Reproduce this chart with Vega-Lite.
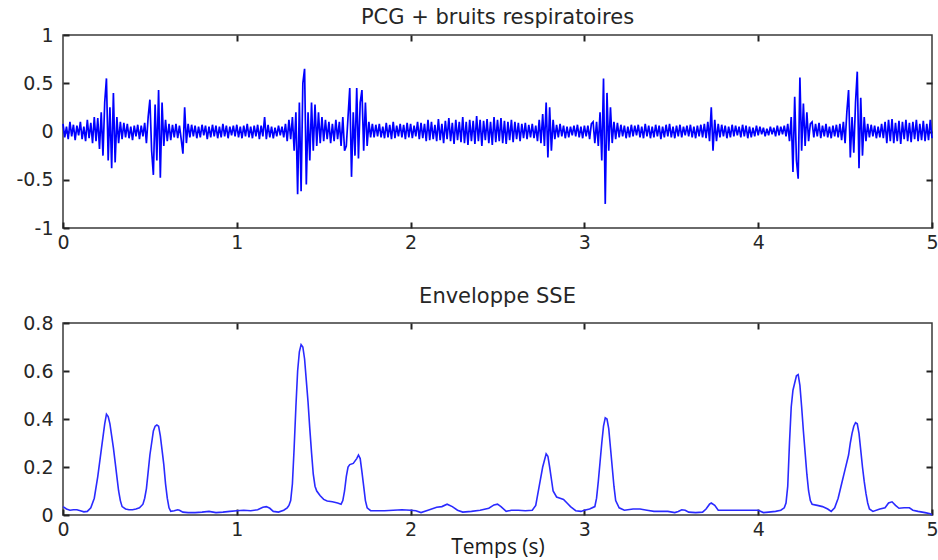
{
"$schema": "https://vega.github.io/schema/vega-lite/v6.json",
"background": "white",
"padding": {"left": 15, "top": 6, "right": 6, "bottom": 0},
"spacing": 32,
"config": {
 "view": {"stroke": "#3a3a3a", "strokeWidth": 1.5},
 "font": "DejaVu Sans",
 "axis": {"grid": false, "domain": false, "ticks": true, "tickColor": "#222222", "tickWidth": 2, "tickSize": 6, "tickOpacity": 1, "offset": -6, "zindex": 2, "labelFont": "DejaVu Sans", "labelFontSize": 19, "labelColor": "#262626", "labelOverlap": false, "labelFlush": false, "titleFont": "Open Sans", "titleFontSize": 21, "titleFontWeight": "normal", "titleColor": "#1a1a1a"},
 "title": {"font": "DejaVu Sans", "fontSize": 21, "fontWeight": "normal", "color": "#262626"}
},
"datasets": {
"pcg": [
{"t":0.00,"v":0.08},{"t":0.01,"v":-0.06},{"t":0.02,"v":0.05},{"t":0.03,"v":-0.08},{"t":0.04,"v":0.1},{"t":0.05,"v":-0.05},{"t":0.06,"v":0.07},{"t":0.07,"v":-0.09},{"t":0.08,"v":0.06},{"t":0.09,"v":-0.04},
{"t":0.10,"v":0.1},{"t":0.11,"v":-0.08},{"t":0.12,"v":0.05},{"t":0.13,"v":-0.1},{"t":0.14,"v":0.12},{"t":0.15,"v":-0.07},{"t":0.16,"v":0.09},{"t":0.17,"v":-0.12},{"t":0.18,"v":0.15},{"t":0.19,"v":-0.1},
{"t":0.20,"v":0.14},{"t":0.21,"v":-0.18},{"t":0.22,"v":0.2},{"t":0.23,"v":-0.25},{"t":0.24,"v":0.3},{"t":0.25,"v":0.55},{"t":0.26,"v":-0.3},{"t":0.27,"v":0.25},{"t":0.28,"v":-0.38},{"t":0.29,"v":0.4},
{"t":0.30,"v":-0.32},{"t":0.31,"v":0.15},{"t":0.32,"v":-0.12},{"t":0.33,"v":0.1},{"t":0.34,"v":-0.08},{"t":0.35,"v":0.09},{"t":0.36,"v":-0.06},{"t":0.37,"v":0.08},{"t":0.38,"v":-0.07},{"t":0.39,"v":0.05},
{"t":0.40,"v":-0.09},{"t":0.41,"v":0.06},{"t":0.42,"v":-0.05},{"t":0.43,"v":0.07},{"t":0.44,"v":-0.08},{"t":0.45,"v":0.06},{"t":0.46,"v":-0.05},{"t":0.47,"v":0.09},{"t":0.48,"v":-0.12},{"t":0.49,"v":0.15},
{"t":0.50,"v":0.33},{"t":0.51,"v":-0.2},{"t":0.52,"v":-0.45},{"t":0.53,"v":0.28},{"t":0.54,"v":-0.3},{"t":0.55,"v":0.43},{"t":0.56,"v":-0.48},{"t":0.57,"v":0.3},{"t":0.58,"v":-0.15},{"t":0.59,"v":0.12},
{"t":0.60,"v":-0.1},{"t":0.61,"v":0.08},{"t":0.62,"v":-0.09},{"t":0.63,"v":0.07},{"t":0.64,"v":-0.06},{"t":0.65,"v":0.08},{"t":0.66,"v":-0.07},{"t":0.67,"v":0.06},{"t":0.68,"v":-0.08},{"t":0.69,"v":-0.23},
{"t":0.70,"v":0.25},{"t":0.71,"v":-0.12},{"t":0.72,"v":0.08},{"t":0.73,"v":-0.06},{"t":0.74,"v":0.07},{"t":0.75,"v":-0.05},{"t":0.76,"v":0.06},{"t":0.77,"v":-0.07},{"t":0.78,"v":0.05},{"t":0.79,"v":-0.06},
{"t":0.80,"v":0.07},{"t":0.81,"v":-0.04},{"t":0.82,"v":0.06},{"t":0.83,"v":-0.08},{"t":0.84,"v":0.05},{"t":0.85,"v":-0.06},{"t":0.86,"v":0.07},{"t":0.87,"v":-0.05},{"t":0.88,"v":0.06},{"t":0.89,"v":-0.07},
{"t":0.90,"v":0.05},{"t":0.91,"v":-0.06},{"t":0.92,"v":0.08},{"t":0.93,"v":-0.05},{"t":0.94,"v":0.06},{"t":0.95,"v":-0.07},{"t":0.96,"v":0.05},{"t":0.97,"v":-0.04},{"t":0.98,"v":0.06},{"t":0.99,"v":-0.05},
{"t":1.00,"v":0.07},{"t":1.01,"v":-0.06},{"t":1.02,"v":0.05},{"t":1.03,"v":-0.07},{"t":1.04,"v":0.06},{"t":1.05,"v":-0.05},{"t":1.06,"v":0.08},{"t":1.07,"v":-0.06},{"t":1.08,"v":0.05},{"t":1.09,"v":-0.07},
{"t":1.10,"v":0.06},{"t":1.11,"v":-0.05},{"t":1.12,"v":0.07},{"t":1.13,"v":-0.08},{"t":1.14,"v":0.06},{"t":1.15,"v":-0.05},{"t":1.16,"v":0.15},{"t":1.17,"v":-0.08},{"t":1.18,"v":0.07},{"t":1.19,"v":-0.06},
{"t":1.20,"v":0.05},{"t":1.21,"v":-0.07},{"t":1.22,"v":0.04},{"t":1.23,"v":-0.05},{"t":1.24,"v":0.06},{"t":1.25,"v":-0.04},{"t":1.26,"v":0.05},{"t":1.27,"v":-0.06},{"t":1.28,"v":0.08},{"t":1.29,"v":-0.1},
{"t":1.30,"v":0.12},{"t":1.31,"v":-0.08},{"t":1.32,"v":0.15},{"t":1.33,"v":-0.2},{"t":1.34,"v":0.2},{"t":1.35,"v":-0.65},{"t":1.36,"v":0.3},{"t":1.37,"v":-0.62},{"t":1.38,"v":0.5},{"t":1.39,"v":0.65},
{"t":1.40,"v":-0.55},{"t":1.41,"v":0.2},{"t":1.42,"v":-0.3},{"t":1.43,"v":0.3},{"t":1.44,"v":-0.2},{"t":1.45,"v":0.28},{"t":1.46,"v":-0.15},{"t":1.47,"v":0.2},{"t":1.48,"v":-0.12},{"t":1.49,"v":0.15},
{"t":1.50,"v":-0.1},{"t":1.51,"v":0.12},{"t":1.52,"v":-0.08},{"t":1.53,"v":0.1},{"t":1.54,"v":-0.12},{"t":1.55,"v":0.08},{"t":1.56,"v":-0.1},{"t":1.57,"v":0.12},{"t":1.58,"v":-0.08},{"t":1.59,"v":0.1},
{"t":1.60,"v":-0.15},{"t":1.61,"v":0.15},{"t":1.62,"v":-0.2},{"t":1.63,"v":-0.15},{"t":1.64,"v":0.15},{"t":1.65,"v":0.45},{"t":1.66,"v":-0.47},{"t":1.67,"v":0.2},{"t":1.68,"v":-0.25},{"t":1.69,"v":0.45},
{"t":1.70,"v":-0.28},{"t":1.71,"v":0.3},{"t":1.72,"v":0.43},{"t":1.73,"v":-0.2},{"t":1.74,"v":0.3},{"t":1.75,"v":-0.15},{"t":1.76,"v":0.1},{"t":1.77,"v":-0.06},{"t":1.78,"v":0.08},{"t":1.79,"v":-0.06},
{"t":1.80,"v":0.07},{"t":1.81,"v":-0.05},{"t":1.82,"v":0.08},{"t":1.83,"v":-0.06},{"t":1.84,"v":0.05},{"t":1.85,"v":-0.07},{"t":1.86,"v":0.09},{"t":1.87,"v":-0.06},{"t":1.88,"v":0.07},{"t":1.89,"v":-0.08},
{"t":1.90,"v":0.1},{"t":1.91,"v":-0.07},{"t":1.92,"v":0.06},{"t":1.93,"v":-0.05},{"t":1.94,"v":0.08},{"t":1.95,"v":-0.06},{"t":1.96,"v":0.07},{"t":1.97,"v":-0.08},{"t":1.98,"v":0.09},{"t":1.99,"v":-0.06},
{"t":2.00,"v":0.08},{"t":2.01,"v":-0.07},{"t":2.02,"v":0.06},{"t":2.03,"v":-0.05},{"t":2.04,"v":0.1},{"t":2.05,"v":-0.08},{"t":2.06,"v":0.09},{"t":2.07,"v":-0.07},{"t":2.08,"v":0.08},{"t":2.09,"v":-0.1},
{"t":2.10,"v":0.12},{"t":2.11,"v":-0.09},{"t":2.12,"v":0.1},{"t":2.13,"v":-0.08},{"t":2.14,"v":0.07},{"t":2.15,"v":-0.1},{"t":2.16,"v":0.13},{"t":2.17,"v":-0.09},{"t":2.18,"v":0.08},{"t":2.19,"v":-0.12},
{"t":2.20,"v":0.11},{"t":2.21,"v":-0.08},{"t":2.22,"v":0.14},{"t":2.23,"v":-0.1},{"t":2.24,"v":0.09},{"t":2.25,"v":-0.13},{"t":2.26,"v":0.12},{"t":2.27,"v":-0.09},{"t":2.28,"v":0.1},{"t":2.29,"v":-0.11},
{"t":2.30,"v":0.15},{"t":2.31,"v":-0.12},{"t":2.32,"v":0.1},{"t":2.33,"v":-0.14},{"t":2.34,"v":0.12},{"t":2.35,"v":-0.1},{"t":2.36,"v":0.11},{"t":2.37,"v":-0.13},{"t":2.38,"v":0.16},{"t":2.39,"v":-0.1},
{"t":2.40,"v":0.12},{"t":2.41,"v":-0.15},{"t":2.42,"v":0.11},{"t":2.43,"v":-0.09},{"t":2.44,"v":0.13},{"t":2.45,"v":-0.12},{"t":2.46,"v":0.1},{"t":2.47,"v":-0.14},{"t":2.48,"v":0.15},{"t":2.49,"v":-0.11},
{"t":2.50,"v":0.12},{"t":2.51,"v":-0.1},{"t":2.52,"v":0.14},{"t":2.53,"v":-0.12},{"t":2.54,"v":0.11},{"t":2.55,"v":-0.13},{"t":2.56,"v":0.1},{"t":2.57,"v":-0.09},{"t":2.58,"v":0.12},{"t":2.59,"v":-0.11},
{"t":2.60,"v":0.1},{"t":2.61,"v":-0.08},{"t":2.62,"v":0.09},{"t":2.63,"v":-0.1},{"t":2.64,"v":0.08},{"t":2.65,"v":-0.07},{"t":2.66,"v":0.09},{"t":2.67,"v":-0.08},{"t":2.68,"v":0.07},{"t":2.69,"v":-0.06},
{"t":2.70,"v":0.08},{"t":2.71,"v":-0.07},{"t":2.72,"v":0.06},{"t":2.73,"v":-0.1},{"t":2.74,"v":0.12},{"t":2.75,"v":-0.12},{"t":2.76,"v":0.18},{"t":2.77,"v":-0.15},{"t":2.78,"v":0.3},{"t":2.79,"v":-0.27},
{"t":2.80,"v":0.25},{"t":2.81,"v":-0.2},{"t":2.82,"v":0.12},{"t":2.83,"v":-0.08},{"t":2.84,"v":0.07},{"t":2.85,"v":-0.06},{"t":2.86,"v":0.08},{"t":2.87,"v":-0.05},{"t":2.88,"v":0.06},{"t":2.89,"v":-0.07},
{"t":2.90,"v":0.05},{"t":2.91,"v":-0.06},{"t":2.92,"v":0.05},{"t":2.93,"v":-0.04},{"t":2.94,"v":0.06},{"t":2.95,"v":-0.05},{"t":2.96,"v":0.07},{"t":2.97,"v":-0.06},{"t":2.98,"v":0.05},{"t":2.99,"v":-0.07},
{"t":3.00,"v":0.06},{"t":3.01,"v":-0.05},{"t":3.02,"v":0.06},{"t":3.03,"v":-0.08},{"t":3.04,"v":0.08},{"t":3.05,"v":0.1},{"t":3.06,"v":-0.12},{"t":3.07,"v":0.1},{"t":3.08,"v":-0.15},{"t":3.09,"v":0.2},
{"t":3.10,"v":-0.3},{"t":3.11,"v":0.55},{"t":3.12,"v":-0.75},{"t":3.13,"v":0.4},{"t":3.14,"v":-0.2},{"t":3.15,"v":0.25},{"t":3.16,"v":-0.12},{"t":3.17,"v":0.1},{"t":3.18,"v":-0.08},{"t":3.19,"v":0.09},
{"t":3.20,"v":-0.06},{"t":3.21,"v":0.07},{"t":3.22,"v":-0.05},{"t":3.23,"v":0.06},{"t":3.24,"v":-0.07},{"t":3.25,"v":0.05},{"t":3.26,"v":-0.06},{"t":3.27,"v":0.07},{"t":3.28,"v":-0.05},{"t":3.29,"v":0.06},
{"t":3.30,"v":-0.04},{"t":3.31,"v":0.07},{"t":3.32,"v":-0.06},{"t":3.33,"v":0.05},{"t":3.34,"v":-0.07},{"t":3.35,"v":0.08},{"t":3.36,"v":-0.05},{"t":3.37,"v":0.06},{"t":3.38,"v":-0.07},{"t":3.39,"v":0.05},
{"t":3.40,"v":-0.06},{"t":3.41,"v":0.07},{"t":3.42,"v":-0.05},{"t":3.43,"v":0.06},{"t":3.44,"v":-0.08},{"t":3.45,"v":0.05},{"t":3.46,"v":-0.06},{"t":3.47,"v":0.07},{"t":3.48,"v":-0.05},{"t":3.49,"v":0.08},
{"t":3.50,"v":-0.06},{"t":3.51,"v":0.05},{"t":3.52,"v":-0.07},{"t":3.53,"v":0.06},{"t":3.54,"v":-0.05},{"t":3.55,"v":0.07},{"t":3.56,"v":-0.06},{"t":3.57,"v":0.05},{"t":3.58,"v":-0.04},{"t":3.59,"v":0.06},
{"t":3.60,"v":-0.05},{"t":3.61,"v":0.07},{"t":3.62,"v":-0.06},{"t":3.63,"v":0.05},{"t":3.64,"v":-0.07},{"t":3.65,"v":0.06},{"t":3.66,"v":-0.05},{"t":3.67,"v":0.07},{"t":3.68,"v":-0.06},{"t":3.69,"v":0.08},
{"t":3.70,"v":-0.07},{"t":3.71,"v":0.1},{"t":3.72,"v":-0.1},{"t":3.73,"v":0.25},{"t":3.74,"v":-0.2},{"t":3.75,"v":0.12},{"t":3.76,"v":-0.1},{"t":3.77,"v":0.08},{"t":3.78,"v":-0.06},{"t":3.79,"v":0.07},
{"t":3.80,"v":-0.05},{"t":3.81,"v":0.06},{"t":3.82,"v":-0.07},{"t":3.83,"v":0.05},{"t":3.84,"v":-0.06},{"t":3.85,"v":0.07},{"t":3.86,"v":-0.05},{"t":3.87,"v":0.06},{"t":3.88,"v":-0.04},{"t":3.89,"v":0.05},
{"t":3.90,"v":-0.06},{"t":3.91,"v":0.07},{"t":3.92,"v":-0.05},{"t":3.93,"v":0.06},{"t":3.94,"v":-0.07},{"t":3.95,"v":0.05},{"t":3.96,"v":-0.06},{"t":3.97,"v":0.04},{"t":3.98,"v":-0.05},{"t":3.99,"v":0.06},
{"t":4.00,"v":-0.04},{"t":4.01,"v":0.05},{"t":4.02,"v":-0.03},{"t":4.03,"v":0.04},{"t":4.04,"v":-0.05},{"t":4.05,"v":0.03},{"t":4.06,"v":-0.04},{"t":4.07,"v":0.05},{"t":4.08,"v":-0.03},{"t":4.09,"v":0.04},
{"t":4.10,"v":-0.05},{"t":4.11,"v":0.06},{"t":4.12,"v":-0.04},{"t":4.13,"v":0.05},{"t":4.14,"v":-0.03},{"t":4.15,"v":0.06},{"t":4.16,"v":-0.05},{"t":4.17,"v":0.08},{"t":4.18,"v":-0.1},{"t":4.19,"v":0.15},
{"t":4.20,"v":-0.42},{"t":4.21,"v":0.36},{"t":4.22,"v":-0.3},{"t":4.23,"v":-0.49},{"t":4.24,"v":0.56},{"t":4.25,"v":-0.2},{"t":4.26,"v":0.29},{"t":4.27,"v":-0.15},{"t":4.28,"v":0.2},{"t":4.29,"v":-0.1},
{"t":4.30,"v":0.08},{"t":4.31,"v":0.1},{"t":4.32,"v":-0.06},{"t":4.33,"v":0.08},{"t":4.34,"v":-0.05},{"t":4.35,"v":0.09},{"t":4.36,"v":-0.07},{"t":4.37,"v":0.06},{"t":4.38,"v":-0.05},{"t":4.39,"v":0.08},
{"t":4.40,"v":-0.06},{"t":4.41,"v":0.05},{"t":4.42,"v":-0.07},{"t":4.43,"v":0.06},{"t":4.44,"v":-0.05},{"t":4.45,"v":0.07},{"t":4.46,"v":-0.06},{"t":4.47,"v":0.08},{"t":4.48,"v":-0.09},{"t":4.49,"v":0.1},
{"t":4.50,"v":-0.12},{"t":4.51,"v":0.2},{"t":4.52,"v":0.43},{"t":4.53,"v":-0.27},{"t":4.54,"v":0.15},{"t":4.55,"v":-0.22},{"t":4.56,"v":0.3},{"t":4.57,"v":0.62},{"t":4.58,"v":-0.38},{"t":4.59,"v":0.35},
{"t":4.60,"v":-0.25},{"t":4.61,"v":0.15},{"t":4.62,"v":-0.1},{"t":4.63,"v":0.08},{"t":4.64,"v":-0.06},{"t":4.65,"v":0.07},{"t":4.66,"v":-0.05},{"t":4.67,"v":0.06},{"t":4.68,"v":-0.07},{"t":4.69,"v":0.05},
{"t":4.70,"v":-0.06},{"t":4.71,"v":0.08},{"t":4.72,"v":-0.07},{"t":4.73,"v":0.1},{"t":4.74,"v":-0.12},{"t":4.75,"v":0.12},{"t":4.76,"v":-0.1},{"t":4.77,"v":0.13},{"t":4.78,"v":-0.12},{"t":4.79,"v":0.09},
{"t":4.80,"v":-0.1},{"t":4.81,"v":0.11},{"t":4.82,"v":-0.13},{"t":4.83,"v":0.1},{"t":4.84,"v":-0.08},{"t":4.85,"v":0.12},{"t":4.86,"v":-0.1},{"t":4.87,"v":0.09},{"t":4.88,"v":-0.11},{"t":4.89,"v":0.1},
{"t":4.90,"v":-0.08},{"t":4.91,"v":0.12},{"t":4.92,"v":-0.1},{"t":4.93,"v":0.08},{"t":4.94,"v":-0.09},{"t":4.95,"v":0.11},{"t":4.96,"v":-0.1},{"t":4.97,"v":0.08},{"t":4.98,"v":-0.09},{"t":4.99,"v":0.12},
{"t":5.00,"v":-0.07}
],
"env": [
{"t":0.00,"v":0.035},{"t":0.02,"v":0.025},{"t":0.04,"v":0.02},{"t":0.06,"v":0.022},{"t":0.08,"v":0.022},{"t":0.10,"v":0.018},{"t":0.12,"v":0.013},{"t":0.14,"v":0.015},{"t":0.16,"v":0.03},{"t":0.18,"v":0.07},
{"t":0.20,"v":0.16},{"t":0.22,"v":0.27},{"t":0.24,"v":0.38},{"t":0.25,"v":0.42},{"t":0.26,"v":0.41},{"t":0.27,"v":0.38},{"t":0.28,"v":0.33},{"t":0.29,"v":0.28},{"t":0.30,"v":0.22},{"t":0.31,"v":0.16},
{"t":0.32,"v":0.1},{"t":0.33,"v":0.06},{"t":0.34,"v":0.035},{"t":0.36,"v":0.025},{"t":0.38,"v":0.022},{"t":0.40,"v":0.022},{"t":0.42,"v":0.025},{"t":0.44,"v":0.03},{"t":0.46,"v":0.045},{"t":0.47,"v":0.07},
{"t":0.48,"v":0.11},{"t":0.49,"v":0.18},{"t":0.50,"v":0.25},{"t":0.51,"v":0.3},{"t":0.52,"v":0.35},{"t":0.53,"v":0.37},{"t":0.54,"v":0.375},{"t":0.55,"v":0.37},{"t":0.56,"v":0.33},{"t":0.57,"v":0.27},
{"t":0.58,"v":0.21},{"t":0.59,"v":0.13},{"t":0.60,"v":0.07},{"t":0.61,"v":0.03},{"t":0.62,"v":0.015},{"t":0.64,"v":0.018},{"t":0.66,"v":0.022},{"t":0.67,"v":0.02},{"t":0.69,"v":0.012},{"t":0.72,"v":0.01},
{"t":0.76,"v":0.01},{"t":0.80,"v":0.012},{"t":0.84,"v":0.015},{"t":0.88,"v":0.01},{"t":0.92,"v":0.012},{"t":0.96,"v":0.015},{"t":1.00,"v":0.018},{"t":1.04,"v":0.02},{"t":1.08,"v":0.018},{"t":1.12,"v":0.022},
{"t":1.15,"v":0.032},{"t":1.17,"v":0.035},{"t":1.19,"v":0.028},{"t":1.21,"v":0.015},{"t":1.24,"v":0.012},{"t":1.27,"v":0.02},{"t":1.29,"v":0.03},{"t":1.30,"v":0.04},{"t":1.31,"v":0.06},{"t":1.32,"v":0.13},
{"t":1.33,"v":0.28},{"t":1.34,"v":0.45},{"t":1.35,"v":0.6},{"t":1.36,"v":0.68},{"t":1.37,"v":0.71},{"t":1.38,"v":0.7},{"t":1.39,"v":0.65},{"t":1.40,"v":0.56},{"t":1.41,"v":0.47},{"t":1.42,"v":0.36},
{"t":1.43,"v":0.26},{"t":1.44,"v":0.17},{"t":1.45,"v":0.12},{"t":1.46,"v":0.1},{"t":1.48,"v":0.08},{"t":1.50,"v":0.065},{"t":1.52,"v":0.058},{"t":1.55,"v":0.055},{"t":1.58,"v":0.05},{"t":1.60,"v":0.045},
{"t":1.61,"v":0.06},{"t":1.62,"v":0.1},{"t":1.63,"v":0.16},{"t":1.64,"v":0.2},{"t":1.65,"v":0.21},{"t":1.67,"v":0.215},{"t":1.69,"v":0.235},{"t":1.70,"v":0.25},{"t":1.71,"v":0.235},{"t":1.72,"v":0.18},
{"t":1.73,"v":0.12},{"t":1.74,"v":0.06},{"t":1.75,"v":0.03},{"t":1.77,"v":0.018},{"t":1.80,"v":0.018},{"t":1.85,"v":0.018},{"t":1.90,"v":0.02},{"t":1.95,"v":0.022},{"t":2.00,"v":0.02},{"t":2.03,"v":0.018},
{"t":2.06,"v":0.01},{"t":2.10,"v":0.02},{"t":2.15,"v":0.032},{"t":2.18,"v":0.035},{"t":2.21,"v":0.045},{"t":2.24,"v":0.035},{"t":2.27,"v":0.02},{"t":2.30,"v":0.012},{"t":2.35,"v":0.015},{"t":2.40,"v":0.02},
{"t":2.45,"v":0.028},{"t":2.48,"v":0.042},{"t":2.50,"v":0.045},{"t":2.52,"v":0.035},{"t":2.55,"v":0.015},{"t":2.58,"v":0.02},{"t":2.62,"v":0.02},{"t":2.66,"v":0.018},{"t":2.70,"v":0.02},{"t":2.72,"v":0.04},
{"t":2.74,"v":0.12},{"t":2.76,"v":0.2},{"t":2.78,"v":0.255},{"t":2.79,"v":0.245},{"t":2.80,"v":0.2},{"t":2.81,"v":0.15},{"t":2.82,"v":0.1},{"t":2.84,"v":0.075},{"t":2.86,"v":0.07},{"t":2.88,"v":0.065},
{"t":2.90,"v":0.05},{"t":2.92,"v":0.035},{"t":2.95,"v":0.018},{"t":2.98,"v":0.015},{"t":3.00,"v":0.02},{"t":3.03,"v":0.025},{"t":3.06,"v":0.035},{"t":3.07,"v":0.07},{"t":3.08,"v":0.14},{"t":3.09,"v":0.22},
{"t":3.10,"v":0.3},{"t":3.11,"v":0.37},{"t":3.12,"v":0.405},{"t":3.13,"v":0.4},{"t":3.14,"v":0.36},{"t":3.15,"v":0.28},{"t":3.16,"v":0.2},{"t":3.17,"v":0.12},{"t":3.18,"v":0.06},{"t":3.20,"v":0.03},
{"t":3.23,"v":0.02},{"t":3.28,"v":0.025},{"t":3.32,"v":0.025},{"t":3.36,"v":0.02},{"t":3.40,"v":0.015},{"t":3.44,"v":0.015},{"t":3.48,"v":0.015},{"t":3.52,"v":0.01},{"t":3.54,"v":0.015},{"t":3.56,"v":0.022},
{"t":3.58,"v":0.02},{"t":3.60,"v":0.012},{"t":3.64,"v":0.01},{"t":3.68,"v":0.012},{"t":3.70,"v":0.025},{"t":3.72,"v":0.045},{"t":3.73,"v":0.05},{"t":3.75,"v":0.04},{"t":3.77,"v":0.02},{"t":3.80,"v":0.02},
{"t":3.85,"v":0.02},{"t":3.90,"v":0.02},{"t":3.95,"v":0.02},{"t":4.00,"v":0.02},{"t":4.03,"v":0.01},{"t":4.06,"v":0.012},{"t":4.10,"v":0.015},{"t":4.13,"v":0.02},{"t":4.15,"v":0.03},{"t":4.16,"v":0.05},
{"t":4.17,"v":0.12},{"t":4.18,"v":0.3},{"t":4.19,"v":0.45},{"t":4.20,"v":0.52},{"t":4.21,"v":0.55},{"t":4.22,"v":0.58},{"t":4.23,"v":0.585},{"t":4.24,"v":0.54},{"t":4.25,"v":0.45},{"t":4.26,"v":0.35},
{"t":4.27,"v":0.26},{"t":4.28,"v":0.17},{"t":4.29,"v":0.1},{"t":4.30,"v":0.06},{"t":4.31,"v":0.045},{"t":4.34,"v":0.04},{"t":4.37,"v":0.035},{"t":4.40,"v":0.025},{"t":4.42,"v":0.015},{"t":4.44,"v":0.03},
{"t":4.46,"v":0.07},{"t":4.48,"v":0.13},{"t":4.50,"v":0.19},{"t":4.52,"v":0.25},{"t":4.53,"v":0.3},{"t":4.54,"v":0.34},{"t":4.55,"v":0.37},{"t":4.56,"v":0.385},{"t":4.57,"v":0.38},{"t":4.58,"v":0.34},
{"t":4.59,"v":0.27},{"t":4.60,"v":0.2},{"t":4.61,"v":0.14},{"t":4.62,"v":0.09},{"t":4.63,"v":0.05},{"t":4.64,"v":0.025},{"t":4.66,"v":0.015},{"t":4.70,"v":0.025},{"t":4.73,"v":0.03},{"t":4.75,"v":0.05},
{"t":4.77,"v":0.055},{"t":4.79,"v":0.04},{"t":4.81,"v":0.028},{"t":4.84,"v":0.03},{"t":4.87,"v":0.03},{"t":4.89,"v":0.02},{"t":4.92,"v":0.015},{"t":4.96,"v":0.01},{"t":4.99,"v":0.005},{"t":5.00,"v":0.0}
]
},
"vconcat": [
{
 "width": 869, "height": 193,
 "title": {"text": "PCG + bruits respiratoires", "offset": -2},
 "data": {"name": "pcg"},
 "resolve": {"axis": {"x": "independent", "y": "independent"}},
 "layer": [
  {"mark": {"type": "line", "color": "#0000ff", "strokeWidth": 1.7},
   "encoding": {
    "x": {"field": "t", "type": "quantitative", "scale": {"domain": [0, 5], "nice": false}, "axis": {"orient": "bottom", "values": [0,1,2,3,4,5], "title": null, "labelPadding": 5}},
    "y": {"field": "v", "type": "quantitative", "scale": {"domain": [-1, 1], "nice": false}, "axis": {"orient": "left", "values": [-1,-0.5,0,0.5,1], "title": null, "labelPadding": 10, "labelExpr": "'' + datum.value"}}
   }},
  {"mark": {"type": "line", "opacity": 0},
   "encoding": {
    "x": {"field": "t", "type": "quantitative", "scale": {"domain": [0, 5], "nice": false}, "axis": {"orient": "top", "values": [1,2,3,4], "title": null, "labels": false}},
    "y": {"field": "v", "type": "quantitative", "scale": {"domain": [-1, 1], "nice": false}, "axis": {"orient": "right", "values": [-0.5,0,0.5], "title": null, "labels": false}}
   }}
 ]
},
{
 "width": 869, "height": 192,
 "title": {"text": "Enveloppe SSE", "offset": 7},
 "data": {"name": "env"},
 "resolve": {"axis": {"x": "independent", "y": "independent"}},
 "layer": [
  {"mark": {"type": "line", "color": "#2a2aff", "strokeWidth": 1.6},
   "encoding": {
    "x": {"field": "t", "type": "quantitative", "scale": {"domain": [0, 5], "nice": false}, "axis": {"orient": "bottom", "values": [0,1,2,3,4,5], "title": "Temps (s)", "labelPadding": 5, "titlePadding": -3}},
    "y": {"field": "v", "type": "quantitative", "scale": {"domain": [0, 0.8], "nice": false}, "axis": {"orient": "left", "values": [0,0.2,0.4,0.6,0.8], "title": null, "labelPadding": 10, "labelExpr": "'' + datum.value"}}
   }},
  {"mark": {"type": "line", "opacity": 0},
   "encoding": {
    "x": {"field": "t", "type": "quantitative", "scale": {"domain": [0, 5], "nice": false}, "axis": {"orient": "top", "values": [1,2,3,4], "title": null, "labels": false}},
    "y": {"field": "v", "type": "quantitative", "scale": {"domain": [0, 0.8], "nice": false}, "axis": {"orient": "right", "values": [0.2,0.4,0.6], "title": null, "labels": false}}
   }}
 ]
}
]
}
